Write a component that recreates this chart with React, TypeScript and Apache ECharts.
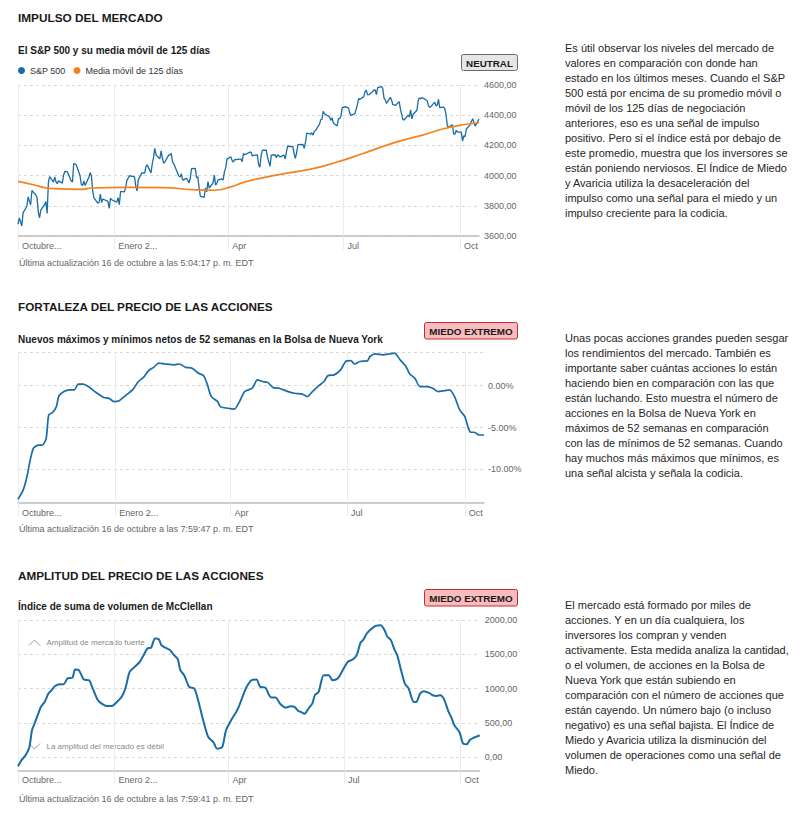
import { useEffect, useRef } from 'react';
import * as echarts from 'echarts';

const FONT = '"Liberation Sans", Arial, Helvetica, sans-serif';

// Calendar span of the x axes: 17 Oct 2022 .. 16 Oct 2023
const START_UTC = Date.UTC(2022, 9, 17);
const DAY_COUNT = 365;
const HOLIDAYS = [
  '2022-11-24', '2022-12-26', '2023-01-02', '2023-01-16', '2023-02-20',
  '2023-04-07', '2023-05-29', '2023-06-19', '2023-07-04', '2023-09-04',
];
const TICK_DATES = ['2022-10-17', '2023-01-01', '2023-04-01', '2023-07-01', '2023-10-01'];
const TICK_TEXTS = ['Octubre...', 'Enero 2...', 'Apr', 'Jul', 'Oct'];

// S&P 500 daily closes (one per trading day, in order)
const SP_CLOSE = [
  // Oct 2022
  3678, 3720, 3695, 3666, 3753, 3797, 3859, 3831, 3807, 3901, 3872,
  // Nov
  3856, 3760, 3720, 3771, 3807, 3828, 3749, 3956, 3993, 3957, 3992, 3959, 3947, 3965, 3950, 4004, 4027, 4026, 3964, 3958, 4080,
  // Dec
  4077, 4072, 3999, 3941, 3934, 3964, 3934, 3991, 4020, 3995, 3896, 3852, 3818, 3822, 3878, 3822, 3845, 3829, 3783, 3849, 3840,
  // Jan 2023
  3824, 3853, 3808, 3895, 3892, 3919, 3970, 3983, 3999, 3991, 3929, 3899, 3973, 4020, 4017, 4016, 4060, 4071, 4018, 4077,
  // Feb
  4119, 4180, 4136, 4111, 4164, 4118, 4082, 4090, 4137, 4136, 4148, 4090, 4079, 3997, 3991, 4012, 3970, 3982, 3970,
  // Mar
  3951, 3981, 4046, 4048, 3986, 3992, 3918, 3862, 3856, 3919, 3892, 3960, 3917, 3952, 4003, 3937, 3949, 3971, 3978, 3971, 4028, 4051, 4109,
  // Apr
  4125, 4101, 4090, 4105, 4109, 4109, 4092, 4146, 4138, 4151, 4155, 4155, 4130, 4134, 4137, 4072, 4056, 4135, 4169,
  // May
  4168, 4120, 4091, 4061, 4136, 4138, 4119, 4138, 4131, 4124, 4136, 4110, 4159, 4198, 4192, 4193, 4146, 4115, 4151, 4205, 4206, 4180,
  // Jun
  4221, 4282, 4274, 4284, 4268, 4294, 4299, 4339, 4369, 4373, 4426, 4410, 4389, 4366, 4382, 4348, 4329, 4378, 4377, 4396, 4450,
  // Jul
  4456, 4447, 4412, 4399, 4410, 4439, 4472, 4510, 4505, 4523, 4555, 4566, 4535, 4536, 4555, 4567, 4567, 4537, 4582, 4589,
  // Aug
  4577, 4513, 4502, 4478, 4518, 4499, 4468, 4469, 4464, 4490, 4438, 4404, 4370, 4370, 4400, 4388, 4436, 4376, 4406, 4433, 4498, 4515, 4508,
  // Sep
  4516, 4497, 4465, 4451, 4457, 4487, 4462, 4467, 4505, 4450, 4454, 4444, 4402, 4330, 4320, 4337, 4274, 4275, 4300, 4288,
  // Oct 2023
  4288, 4229, 4264, 4258, 4309, 4336, 4358, 4377, 4350, 4328, 4374,
];

// 125-day moving average (calendar-day offset from 17 Oct 2022)
const MA_DAYS = [0, 13, 24, 51, 58, 85, 115, 141, 155, 168, 180, 205, 232, 250, 272, 296, 320, 336, 350, 364];
const MA_VALUES = [3962, 3938, 3916, 3909, 3918, 3922, 3920, 3905, 3903, 3925, 3960, 4005, 4045, 4085, 4145, 4215, 4270, 4310, 4335, 4350];

// Net new 52-week highs/lows (%)
const NH_DAYS = [0, 4, 7, 9, 12, 16, 19, 22, 24, 27, 30, 32, 36, 40, 44, 47, 51, 55, 60, 67, 71, 75, 79, 83, 90, 94, 98, 102, 106, 110, 115, 122, 126, 131, 136, 141, 145, 148, 151, 156, 158, 164, 169, 173, 177, 183, 187, 191, 195, 199, 204, 211, 216, 222, 226, 230, 235, 239, 242, 247, 252, 256, 260, 263, 267, 273, 275, 279, 285, 290, 294, 299, 303, 306, 310, 314, 320, 324, 328, 333, 337, 341, 345, 349, 353, 357, 360, 364];
const NH_VALUES = [-13.6, -12.5, -10.9, -9.3, -7.5, -7.1, -7.1, -6.3, -3.5, -3.2, -2.5, -1.2, -0.7, -0.5, -0.5, 0.2, 0.2, -0.1, -0.7, -1.4, -1.5, -1.9, -1.8, -1.3, -0.4, 0.5, 1.0, 1.8, 2.2, 2.7, 2.6, 2.5, 2.6, 2.2, 2.1, 1.5, 1.2, 0.1, -1.3, -1.9, -2.5, -2.7, -2.8, -1.9, -0.7, -0.3, 0.7, 0.5, 0.4, -0.2, -0.3, -0.7, -0.9, -1.0, -1.3, -0.7, 0.0, 0.5, 1.2, 1.3, 1.9, 2.9, 3.0, 2.6, 2.9, 3.0, 3.5, 3.8, 3.7, 3.8, 3.9, 3.0, 2.3, 1.4, 0.9, -0.1, -0.1, -0.3, -0.7, -0.6, -0.5, -1.3, -2.9, -3.7, -5.5, -5.6, -5.9, -5.9];

// McClellan Volume Summation Index
const MC_DAYS = [0, 3, 6, 9, 11, 13, 16, 18, 21, 24, 26, 29, 33, 36, 39, 43, 45, 48, 52, 56, 59, 63, 66, 70, 74, 78, 82, 85, 88, 92, 96, 99, 102, 105, 108, 111, 113, 116, 120, 123, 126, 128, 131, 135, 139, 142, 146, 150, 154, 157, 161, 164, 168, 172, 174, 177, 180, 184, 188, 191, 195, 198, 200, 203, 207, 211, 215, 218, 221, 223, 226, 229, 232, 234, 237, 241, 245, 248, 252, 256, 260, 264, 267, 270, 272, 275, 278, 282, 286, 289, 291, 294, 297, 299, 302, 305, 308, 312, 314, 317, 320, 324, 327, 330, 333, 336, 339, 342, 344, 348, 351, 354, 356, 359, 364];
const MC_VALUES = [-136, -39, 24, 146, 390, 487, 633, 731, 804, 926, 965, 1033, 1062, 1062, 1145, 1160, 1277, 1267, 1130, 1120, 999, 828, 780, 745, 745, 804, 887, 1023, 1243, 1316, 1389, 1486, 1584, 1598, 1730, 1720, 1632, 1598, 1559, 1486, 1428, 1267, 1194, 1023, 999, 828, 536, 292, 219, 122, 146, 390, 536, 658, 731, 877, 1014, 1120, 1130, 1023, 1014, 901, 867, 867, 770, 721, 741, 731, 672, 658, 633, 707, 780, 901, 950, 1194, 1194, 1120, 1145, 1267, 1389, 1423, 1486, 1667, 1706, 1803, 1862, 1915, 1925, 1852, 1764, 1706, 1559, 1486, 1267, 1072, 999, 804, 804, 926, 960, 936, 901, 892, 901, 838, 682, 560, 463, 365, 195, 185, 244, 278, 317];

const NH_LABEL_TICKS = [-10, -5, 0];
const NH_GRID_TICKS = [-10, -5, 0, 4];
const MC_TICKS = [0, 500, 1000, 1500, 2000];

const TEXT1 = [
  'Es útil observar los niveles del mercado de',
  'valores en comparación con donde han',
  'estado en los últimos meses. Cuando el S&P',
  '500 está por encima de su promedio móvil o',
  'móvil de los 125 días de negociación',
  'anteriores, eso es una señal de impulso',
  'positivo. Pero si el índice está por debajo de',
  'este promedio, muestra que los inversores se',
  'están poniendo nerviosos. El Índice de Miedo',
  'y Avaricia utiliza la desaceleración del',
  'impulso como una señal para el miedo y un',
  'impulso creciente para la codicia.',
];
const TEXT2 = [
  'Unas pocas acciones grandes pueden sesgar',
  'los rendimientos del mercado. También es',
  'importante saber cuántas acciones lo están',
  'haciendo bien en comparación con las que',
  'están luchando. Esto muestra el número de',
  'acciones en la Bolsa de Nueva York en',
  'máximos de 52 semanas en comparación',
  'con las de mínimos de 52 semanas. Cuando',
  'hay muchos más máximos que mínimos, es',
  'una señal alcista y señala la codicia.',
];
const TEXT3 = [
  'El mercado está formado por miles de',
  'acciones. Y en un día cualquiera, los',
  'inversores los compran y venden',
  'activamente. Esta medida analiza la cantidad,',
  'o el volumen, de acciones en la Bolsa de',
  'Nueva York que están subiendo en',
  'comparación con el número de acciones que',
  'están cayendo. Un número bajo (o incluso',
  'negativo) es una señal bajista. El Índice de',
  'Miedo y Avaricia utiliza la disminución del',
  'volumen de operaciones como una señal de',
  'Miedo.',
];

const DAY_MS = 86400000;
const CATEGORIES = Array.from({ length: DAY_COUNT }, (_, i) =>
  new Date(START_UTC + i * DAY_MS).toISOString().slice(0, 10)
);
const TRADING_INDEX = CATEGORIES.map((d, i) => ({ d, i }))
  .filter(({ d, i }) => {
    const wd = new Date(START_UTC + i * DAY_MS).getUTCDay();
    return wd !== 0 && wd !== 6 && !HOLIDAYS.includes(d);
  })
  .map((o) => o.i);
const TICK_INDEX = TICK_DATES.map((d) => CATEGORIES.indexOf(d));

const BLUE = '#1a6ca6';
const ORANGE = '#f5821f';

function xAxisFor(gridIndex: number, labelMargin: number) {
  const isTick = (index: number) => TICK_INDEX.includes(index);
  return {
    type: 'category',
    gridIndex,
    data: CATEGORIES,
    boundaryGap: false,
    axisLine: { show: true, onZero: false, lineStyle: { color: '#bdbdbd', width: 1.5 } },
    axisTick: { show: true, interval: isTick, length: 14, lineStyle: { color: '#ececec', width: 1 } },
    splitLine: { show: true, interval: isTick, lineStyle: { color: '#ececec', width: 1 } },
    axisLabel: {
      interval: isTick,
      formatter: (v: string) => {
        const k = TICK_DATES.indexOf(v);
        return k >= 0 ? TICK_TEXTS[k] : '';
      },
      align: 'left',
      padding: [0, 0, 0, 4],
      margin: labelMargin,
      color: '#666',
      fontSize: 9,
      fontFamily: FONT,
    },
  };
}

const dashed = { lineStyle: { color: '#d9d9d9', width: 1, type: [3, 3] } };

function txt(x: number, y: number, text: string, fontSize: number, fontWeight: string, fill: string, extra: any = {}) {
  return {
    type: 'text',
    x,
    y,
    silent: true,
    style: { text, fontSize, fontWeight, fill, fontFamily: FONT, align: 'left', verticalAlign: 'middle', ...extra },
  };
}

function badge(x: number, y: number, w: number, h: number, label: string, fill: string, stroke: string) {
  return {
    type: 'group',
    children: [
      { type: 'rect', shape: { x, y, width: w, height: h, r: 2 }, style: { fill, stroke, lineWidth: 1 } },
      {
        type: 'text',
        x: x + w / 2,
        y: y + h / 2 + 0.5,
        style: { text: label, fontSize: 9.8, fontWeight: 'bold', fill: '#1a1a1a', fontFamily: FONT, align: 'center', verticalAlign: 'middle' },
      },
    ],
  };
}

function paragraph(x: number, top: number, lines: string[]) {
  return {
    type: 'text',
    x,
    y: top,
    silent: true,
    style: { text: lines.join('\n'), fontSize: 11, lineHeight: 15, fill: '#262626', fontFamily: FONT, align: 'left', verticalAlign: 'top' },
  };
}

export default function App() {
  const ref = useRef<HTMLDivElement>(null);

  useEffect(() => {
    if (!ref.current) return;
    const chart = echarts.init(ref.current, undefined, { renderer: 'svg' });

    const spData = TRADING_INDEX.map((idx, k) => [idx, SP_CLOSE[k]]);
    const maData = MA_DAYS.map((d, k) => [d, MA_VALUES[k]]);
    const nhData = NH_DAYS.map((d, k) => [d, NH_VALUES[k]]);
    const mcData = MC_DAYS.map((d, k) => [d, MC_VALUES[k]]);

    const commaFmt = (v: number) => v.toFixed(2).replace('.', ',');

    const option: any = {
      animation: false,
      textStyle: { fontFamily: FONT },
      legend: {
        left: 18,
        top: 66,
        padding: 0,
        icon: 'circle',
        itemWidth: 7,
        itemHeight: 7,
        itemGap: 8,
        textStyle: { fontSize: 9, color: '#333', fontFamily: FONT },
        data: ['S&P 500', 'Media móvil de 125 días'],
      },
      grid: [
        { left: 18, top: 85, width: 461, height: 151, outerBoundsMode: 'none', containLabel: false },
        { left: 18, top: 352.3, width: 466, height: 150.4, outerBoundsMode: 'none', containLabel: false },
        { left: 18, top: 620, width: 461.7, height: 150.7, outerBoundsMode: 'none', containLabel: false },
      ],
      xAxis: [xAxisFor(0, 5), xAxisFor(1, 6), xAxisFor(2, 5)],
      yAxis: [
        {
          type: 'value',
          gridIndex: 0,
          position: 'right',
          min: 3600,
          max: 4600,
          interval: 200,
          axisLine: { show: false },
          axisTick: { show: false },
          axisLabel: { formatter: commaFmt, color: '#666', fontSize: 9, margin: 5, fontFamily: FONT },
          splitLine: dashed,
        },
        {
          type: 'value',
          gridIndex: 1,
          position: 'right',
          min: -14,
          max: 4,
          axisLine: { show: false },
          axisTick: { show: false, customValues: NH_GRID_TICKS },
          axisLabel: {
            customValues: NH_LABEL_TICKS,
            formatter: (v: number) => v.toFixed(2) + '%',
            color: '#666',
            fontSize: 9,
            margin: 4,
            fontFamily: FONT,
          },
          splitLine: dashed,
        },
        {
          type: 'value',
          gridIndex: 2,
          position: 'right',
          min: -200,
          max: 2000,
          axisLine: { show: false },
          axisTick: { show: false, customValues: MC_TICKS },
          axisLabel: { customValues: MC_TICKS, formatter: commaFmt, color: '#666', fontSize: 9, margin: 5, fontFamily: FONT },
          splitLine: dashed,
        },
      ],
      series: [
        {
          name: 'S&P 500',
          type: 'line',
          xAxisIndex: 0,
          yAxisIndex: 0,
          data: spData,
          showSymbol: false,
          color: BLUE,
          lineStyle: { color: BLUE, width: 1.3 },
          z: 3,
        },
        {
          name: 'Media móvil de 125 días',
          type: 'line',
          xAxisIndex: 0,
          yAxisIndex: 0,
          data: maData,
          smooth: true,
          showSymbol: false,
          color: ORANGE,
          lineStyle: { color: ORANGE, width: 1.7 },
          z: 4,
        },
        {
          name: 'Máximos netos',
          type: 'line',
          xAxisIndex: 1,
          yAxisIndex: 1,
          data: nhData,
          smooth: 0.25,
          showSymbol: false,
          color: BLUE,
          lineStyle: { color: BLUE, width: 1.7 },
        },
        {
          name: 'McClellan',
          type: 'line',
          xAxisIndex: 2,
          yAxisIndex: 2,
          data: mcData,
          smooth: 0.25,
          showSymbol: false,
          color: BLUE,
          lineStyle: { color: BLUE, width: 2 },
        },
      ],
      graphic: [
        // Panel 1
        txt(18, 17.7, 'IMPULSO DEL MERCADO', 11.8, 'bold', '#1a1a1a'),
        txt(18, 50, 'El S&P 500 y su media móvil de 125 días', 10, 'bold', '#1a1a1a'),
        badge(461.5, 54.5, 56, 16, 'NEUTRAL', '#e6e6e6', '#6b6b6b'),
        txt(19, 263, 'Última actualización 16 de octubre a las 5:04:17 p. m. EDT', 9, 'normal', '#666'),
        paragraph(565, 40.5, TEXT1),
        // Panel 2
        txt(18, 306, 'FORTALEZA DEL PRECIO DE LAS ACCIONES', 11.7, 'bold', '#1a1a1a'),
        txt(18, 339, 'Nuevos máximos y mínimos netos de 52 semanas en la Bolsa de Nueva York', 10, 'bold', '#1a1a1a'),
        badge(424.5, 322.5, 93, 16.5, 'MIEDO EXTREMO', '#f8bcbc', '#c8283a'),
        txt(19, 529.3, 'Última actualización 16 de octubre a las 7:59:47 p. m. EDT', 9, 'normal', '#666'),
        paragraph(565, 330, TEXT2),
        // Panel 3
        txt(18, 575, 'AMPLITUD DEL PRECIO DE LAS ACCIONES', 11.7, 'bold', '#1a1a1a'),
        txt(18, 606.7, 'Índice de suma de volumen de McClellan', 10, 'bold', '#1a1a1a'),
        badge(424.5, 589.5, 93, 16.5, 'MIEDO EXTREMO', '#f8bcbc', '#c8283a'),
        txt(19, 799.3, 'Última actualización 16 de octubre a las 7:59:41 p. m. EDT', 9, 'normal', '#666'),
        paragraph(565, 597.5, TEXT3),
        // Panel 3 annotations
        {
          type: 'polyline',
          silent: true,
          shape: { points: [[29, 645.5], [34.5, 640], [40, 645.5]] },
          style: { stroke: '#999', lineWidth: 1, fill: 'none' },
        },
        txt(46.5, 642.5, 'Amplitud de mercado fuerte', 8, 'normal', '#888'),
        {
          type: 'polyline',
          silent: true,
          shape: { points: [[29, 743.5], [34.5, 749], [40, 743.5]] },
          style: { stroke: '#999', lineWidth: 1, fill: 'none' },
        },
        txt(46.5, 746.5, 'La amplitud del mercado es débil', 8, 'normal', '#888'),
      ],
    };

    chart.setOption(option);
    return () => chart.dispose();
  }, []);

  return (
    <div
      ref={ref}
      style={{ position: 'absolute', left: 0, top: 0, width: 802, height: 819, background: '#fff' }}
    />
  );
}
